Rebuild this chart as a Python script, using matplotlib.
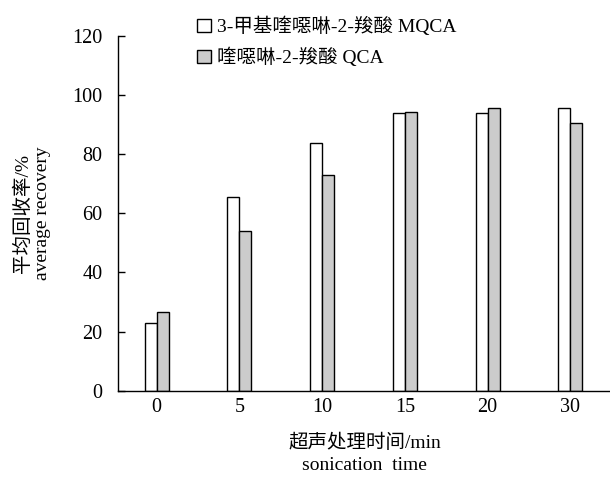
import numpy as np
import matplotlib.pyplot as plt

plt.rcParams['font.family'] = ['Liberation Serif', 'Noto Sans CJK SC']
plt.rcParams['axes.unicode_minus'] = False

# sonication time groups and recoveries (%)
times = ['0', '5', '10', '15', '20', '30']
mqca = [22.8, 65.5, 83.6, 93.8, 93.9, 95.6]
qca = [26.7, 54.0, 73.0, 94.3, 95.6, 90.4]

x = np.arange(len(times))
w = 0.145

fig = plt.figure(figsize=(6.1, 4.82), dpi=100)
ax = fig.add_axes([0.193, 0.189, 0.81, 0.737])

ax.bar(x - w / 2, mqca, w, color='white', edgecolor='black', linewidth=1.0,
       label='3-甲基喹噁啉-2-羧酸 MQCA')
ax.bar(x + w / 2, qca, w, color='#cccccc', edgecolor='black', linewidth=1.0,
       label='喹噁啉-2-羧酸 QCA')

ax.set_xlim(-0.47, 5.5)
ax.set_ylim(0, 120)
ax.set_yticks(np.arange(0, 121, 20))
ax.set_xticks(x)
ax.set_xticklabels(times)

for s in ['top', 'right']:
    ax.spines[s].set_visible(False)
ax.spines['left'].set_linewidth(1.0)
ax.spines['bottom'].set_linewidth(1.0)
ax.tick_params(axis='y', direction='in', length=5, width=1.0, labelsize=14.5, pad=11)
ax.tick_params(axis='x', length=0, labelsize=14.5, pad=5)

ax.set_xlabel('超声处理时间/min\nsonication  time', fontsize=14, labelpad=12,
              linespacing=1.4)
ax.set_ylabel('平均回收率/%\naverage recovery', fontsize=14, labelpad=15,
              linespacing=1.15)

ax.legend(loc='upper left', bbox_to_anchor=(0.145, 1.075), frameon=False,
          fontsize=14, handlelength=0.7, handleheight=0.7, handletextpad=0.3,
          labelspacing=0.6, borderaxespad=0)

fig.savefig('out.png', dpi=100)
